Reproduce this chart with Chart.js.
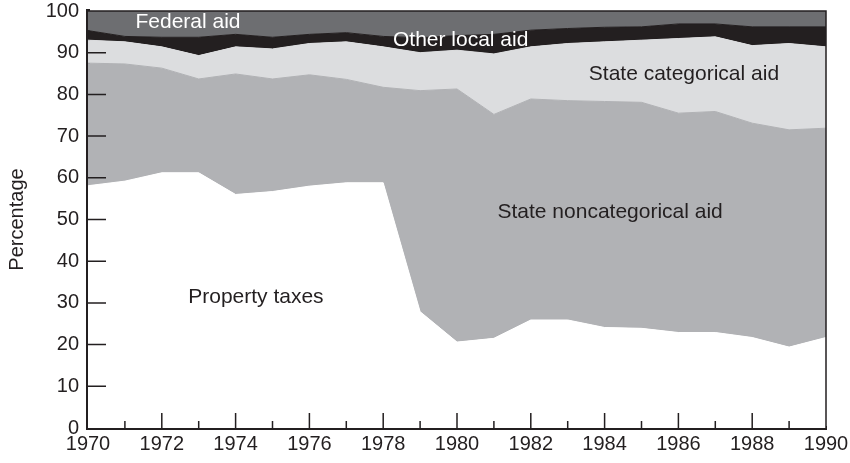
<!DOCTYPE html>
<html>
<head>
<meta charset="utf-8">
<style>html,body{margin:0;padding:0;background:#fff}</style>
<script src="https://cdn.jsdelivr.net/npm/chart.js@4.4.0/dist/chart.umd.min.js"></script>
</head>
<body>
<canvas id="chart" width="850" height="463"></canvas>
<script>
// shares of local school revenue, percent
const years = ['1970','1971','1972','1973','1974','1975','1976','1977','1978','1979','1980',
               '1981','1982','1983','1984','1985','1986','1987','1988','1989','1990'];
const propertyTaxes = [58.1,59.2,61.2,61.2,56.0,56.7,58.0,58.8,58.8,27.9,20.6,21.5,25.9,25.9,24.1,23.9,22.9,22.9,21.7,19.4,21.7];
const stateNoncategorical = [29.4,28.1,25.1,22.5,28.9,27.0,26.7,24.8,22.9,53.0,60.7,53.7,53.0,52.6,54.2,54.2,52.6,53.0,51.4,52.1,50.2];
const stateCategorical = [5.5,5.3,5.1,5.6,6.5,7.2,7.5,9.0,9.7,9.1,9.3,14.5,12.5,13.7,14.3,14.9,17.9,17.9,18.6,20.7,19.5];
const otherLocal = [2.3,1.3,2.3,4.4,3.0,2.8,2.2,2.2,2.5,3.6,3.5,4.7,4.0,3.6,3.5,3.2,3.5,3.1,4.5,4.0,4.8];
const federal = [4.7,6.1,6.3,6.3,5.6,6.3,5.6,5.2,6.1,6.4,5.9,5.6,4.6,4.2,3.9,3.8,3.1,3.1,3.8,3.8,3.8];

const ink = '#231f20';
const family = '"Liberation Sans", Arial, Helvetica, sans-serif';

// in-plot labels, placed in data units (x = year index)
const areaLabels = [
  { text: 'Federal aid', x: 2.71, y: 97.4, color: '#ffffff' },
  { text: 'Other local aid', x: 10.1, y: 93.0, color: '#ffffff' },
  { text: 'State categorical aid', x: 16.15, y: 84.9, color: ink },
  { text: 'State noncategorical aid', x: 14.15, y: 51.8, color: ink },
  { text: 'Property taxes', x: 4.55, y: 31.4, color: ink }
];

function layer(label, data, color, fill) {
  return {
    label, data, fill,
    backgroundColor: color,
    borderColor: color,
    borderWidth: 1,
    pointRadius: 0,
    tension: 0
  };
}

const frame = {
  id: 'frame',
  afterDatasetsDraw(chart) {
    const { ctx, chartArea: a, scales: { x, y } } = chart;
    ctx.save();
    ctx.strokeStyle = ink;
    ctx.lineWidth = 1.5;
    ctx.beginPath();
    ctx.moveTo(a.left, a.top);
    ctx.lineTo(a.right, a.top);
    ctx.lineTo(a.right, a.bottom);
    for (let v = 10; v < 100; v += 10) {
      const py = y.getPixelForValue(v);
      ctx.moveTo(a.left, py);
      ctx.lineTo(a.left + 18, py);
    }
    years.forEach((yr, i) => {
      if (i === 0 || i === years.length - 1) return;
      const px = x.getPixelForValue(i);
      ctx.moveTo(px, a.bottom);
      ctx.lineTo(px, a.bottom - (i % 2 === 0 ? 15 : 7));
    });
    ctx.stroke();

    ctx.font = '21px ' + family;
    ctx.textAlign = 'center';
    ctx.textBaseline = 'middle';
    areaLabels.forEach(l => {
      ctx.fillStyle = l.color;
      ctx.fillText(l.text, x.getPixelForValue(l.x), y.getPixelForValue(l.y));
    });
    ctx.restore();
  }
};

new Chart(document.getElementById('chart'), {
  type: 'line',
  data: {
    labels: years,
    datasets: [
      layer('Property taxes', propertyTaxes, '#ffffff', 'origin'),
      layer('State noncategorical aid', stateNoncategorical, '#b1b2b5', '-1'),
      layer('State categorical aid', stateCategorical, '#dcdddf', '-1'),
      layer('Other local aid', otherLocal, '#231f20', '-1'),
      layer('Federal aid', federal, '#6d6e71', '-1')
    ]
  },
  options: {
    responsive: false,
    animation: false,
    layout: { padding: { left: 0, right: 24, top: 11, bottom: 0 } },
    plugins: { legend: { display: false }, tooltip: { enabled: false } },
    scales: {
      x: {
        grid: { display: false, drawTicks: false },
        border: { color: ink, width: 4 },
        ticks: {
          color: ink,
          font: { family, size: 20 },
          padding: 4,
          autoSkip: false,
          maxRotation: 0,
          callback(v, i) { return i % 2 === 0 ? this.getLabelForValue(v) : ''; }
        },
        afterFit(s) { s.height = 35; s.paddingLeft = 0; s.paddingRight = 0; }
      },
      y: {
        stacked: true,
        min: 0,
        max: 100,
        grid: { display: false, drawTicks: false },
        border: { color: ink, width: 4 },
        ticks: { stepSize: 10, color: ink, font: { family, size: 20 }, padding: 9 },
        title: { display: true, text: 'Percentage', color: ink, font: { family, size: 20 }, padding: { top: 5, bottom: 0 } },
        afterFit(s) { s.width = 88; s.paddingTop = 0; s.paddingBottom = 0; }
      }
    }
  },
  plugins: [frame]
});
</script>
</body>
</html>
